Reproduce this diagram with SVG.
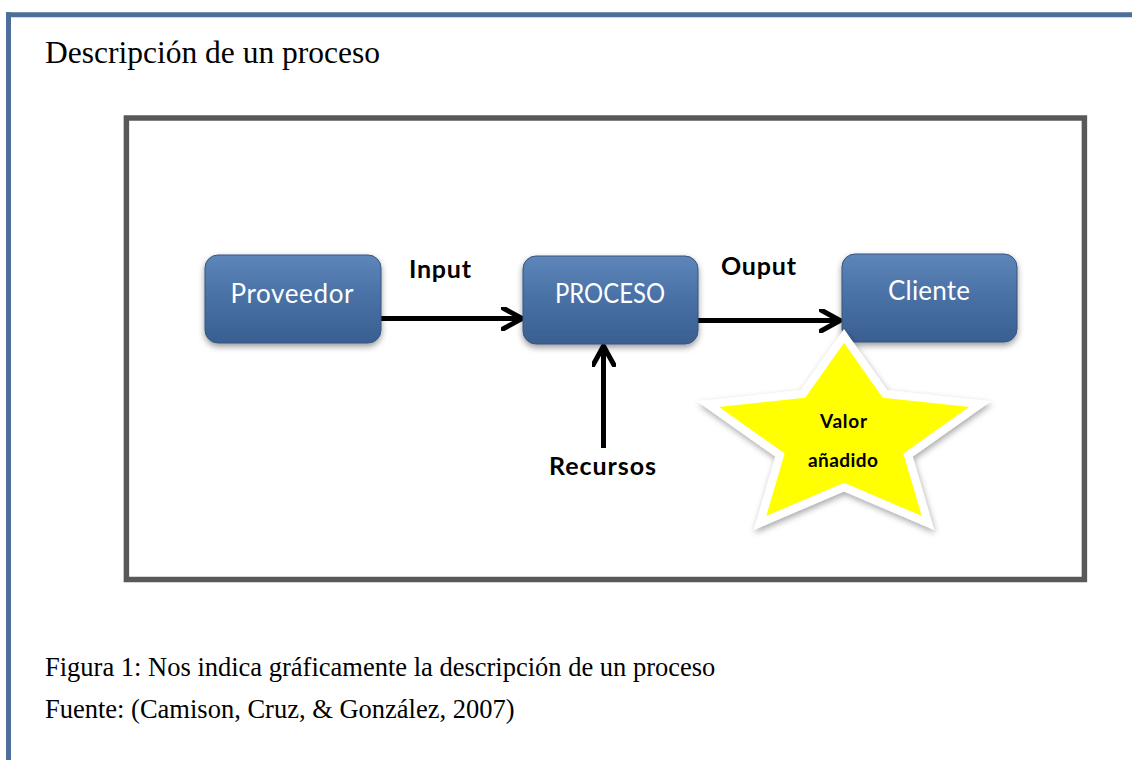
<svg xmlns="http://www.w3.org/2000/svg" width="1132" height="760" viewBox="0 0 1132 760">
  <defs>
    <linearGradient id="boxGrad" x1="0" y1="0" x2="0" y2="1">
      <stop offset="0" stop-color="#5e86ba"/>
      <stop offset="0.45" stop-color="#4a72a6"/>
      <stop offset="1" stop-color="#3a5f91"/>
    </linearGradient>
    <filter id="shadow" x="-20%" y="-20%" width="140%" height="150%">
      <feDropShadow dx="0" dy="3" stdDeviation="3" flood-color="#000" flood-opacity="0.4"/>
    </filter>
    <filter id="starShadow" x="-20%" y="-20%" width="140%" height="150%">
      <feDropShadow dx="1" dy="3" stdDeviation="3" flood-color="#000" flood-opacity="0.35"/>
    </filter>
    <marker id="chev" viewBox="0 0 24 24" markerWidth="24" markerHeight="24" refX="21" refY="12" orient="auto" markerUnits="userSpaceOnUse">
      <polyline points="2,1.5 21,12 2,22.5" fill="none" stroke="#000" stroke-width="5" stroke-linecap="round" stroke-linejoin="round"/>
    </marker>
    <style>
      .node rect { fill: url(#boxGrad); stroke: #34557f; stroke-width: 1; filter: url(#shadow); }
      .nodeText { font-family: Lato, "Open Sans", sans-serif; font-size: 26px; fill: #ffffff; text-anchor: middle; }
      .lbl { font-family: Lato, "Open Sans", sans-serif; font-weight: bold; fill: #000; }
      .serif { font-family: "Liberation Serif", "Times New Roman", serif; fill: #000; }
      .conn { stroke: #000; stroke-width: 5; fill: none; marker-end: url(#chev); }
    </style>
  </defs>

  <rect width="1132" height="760" fill="#ffffff"/>

  <g id="frame">
    <line x1="6" y1="14.8" x2="1132" y2="14.8" stroke="#4e6e99" stroke-width="5"/>
    <line x1="8.5" y1="12.3" x2="8.5" y2="760" stroke="#4e6e99" stroke-width="5"/>
  </g>

  <g id="title">
    <text class="serif" x="45" y="63" font-size="31.5">Descripción de un proceso</text>
  </g>

  <g id="diagramBox">
    <rect x="126.4" y="118" width="958" height="461.5" fill="none" stroke="#595959" stroke-width="5.5"/>
  </g>

  <g id="connectors">
    <line class="conn" x1="381" y1="318.5" x2="522" y2="318.5"/>
    <line class="conn" x1="698" y1="320.5" x2="840" y2="320.5"/>
    <line class="conn" x1="603.5" y1="448" x2="603.5" y2="346"/>
  </g>

  <g id="node-proveedor" class="node">
    <rect x="205" y="255" width="176" height="88" rx="13" ry="13"/>
    <text class="nodeText" x="292" y="303" textLength="123">Proveedor</text>
  </g>

  <g id="node-proceso" class="node">
    <rect x="523" y="256" width="175" height="88" rx="13" ry="13"/>
    <text class="nodeText" x="610" y="303" font-size="25" textLength="110" lengthAdjust="spacingAndGlyphs">PROCESO</text>
  </g>

  <g id="node-cliente" class="node">
    <rect x="842" y="254" width="175" height="88" rx="13" ry="13"/>
    <text class="nodeText" x="929" y="300" textLength="82">Cliente</text>
  </g>

  <g id="label-input">
    <text class="lbl" x="409" y="278" font-size="25" textLength="62">Input</text>
  </g>
  <g id="label-ouput">
    <text class="lbl" x="721" y="275" font-size="25" textLength="75">Ouput</text>
  </g>
  <g id="label-recursos">
    <text class="lbl" x="549" y="475" font-size="25" textLength="107">Recursos</text>
  </g>

  <g id="node-valor">
    <polygon points="844,336 885,394 980,404 908,455 928,523 844,487 760,523 780,455 708,404 803,394" fill="#ffff00" stroke="#ffffff" stroke-width="8" stroke-linejoin="miter" filter="url(#starShadow)"/>
    <text class="lbl" x="820" y="428" font-size="19" textLength="47">Valor</text>
    <text class="lbl" x="808" y="467" font-size="19" textLength="70">añadido</text>
  </g>

  <g id="caption">
    <text class="serif" x="45" y="676" font-size="26.5">Figura 1: Nos indica gráficamente la descripción de un proceso</text>
    <text class="serif" x="45" y="718" font-size="26.5">Fuente: (Camison, Cruz, &amp; González, 2007)</text>
  </g>
</svg>
